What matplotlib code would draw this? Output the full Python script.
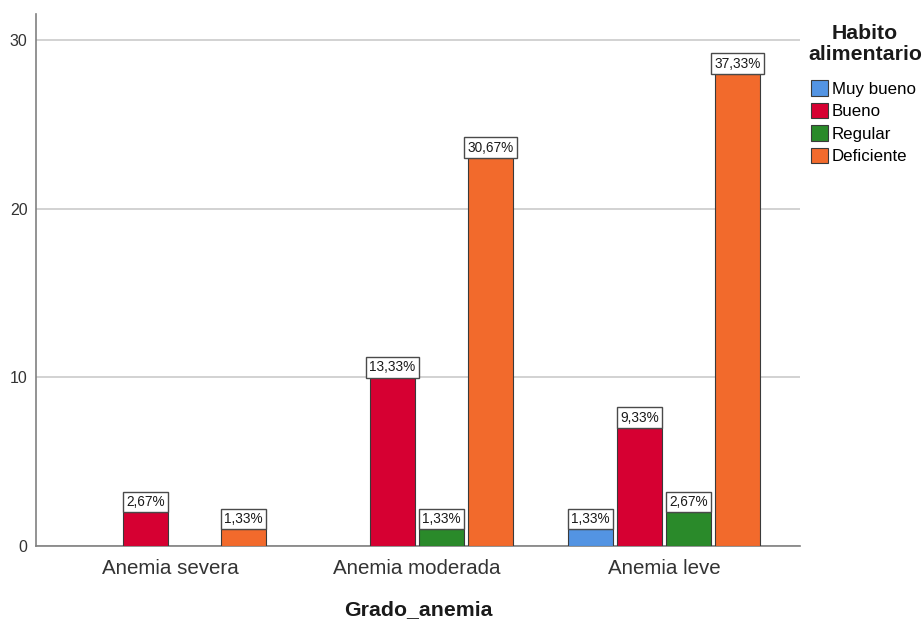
import matplotlib
matplotlib.use("Agg")
import matplotlib.pyplot as plt
import numpy as np
from matplotlib.patches import Patch

plt.rcParams['font.family'] = ['Liberation Sans', 'DejaVu Sans']

grados = ["Anemia severa", "Anemia moderada", "Anemia leve"]
habitos = ["Muy bueno", "Bueno", "Regular", "Deficiente"]
colores = ["#5394e3", "#d60032", "#2a8a2a", "#f26a2c"]

# Recuento de casos por grado de anemia (filas: hábito alimentario)
muy_bueno = [0, 0, 1]
bueno = [2, 10, 7]
regular = [0, 1, 2]
deficiente = [1, 23, 28]
total = 75

series = [muy_bueno, bueno, regular, deficiente]

fig = plt.figure(figsize=(9.24, 6.2), dpi=100)
ax = fig.add_axes([36 / 924, 74 / 620, 764 / 924, 532 / 620])

x = np.arange(len(grados))
paso = 0.1984
ancho = 0.182
offsets = (np.arange(len(habitos)) - 1.5) * paso

for serie, off, col in zip(series, offsets, colores):
    for xi, v in zip(x, serie):
        if v <= 0:
            continue
        ax.bar(xi + off, v, width=ancho, color=col, edgecolor="#3a3a3a",
               linewidth=0.8, zorder=3)
        pct = v / total * 100
        etiqueta = f"{pct:.2f}%".replace(".", ",")
        ax.annotate(etiqueta, (xi + off, v), xytext=(0, 2.3),
                    textcoords="offset points", ha="center", va="bottom",
                    fontsize=9.8, color="#1a1a1a", zorder=5,
                    bbox=dict(boxstyle="square,pad=0.25", fc="white",
                              ec="#4a4a4a", lw=1.0))

ax.set_xlim(-0.5425, 2.55)
ax.set_ylim(0, 31.54)
ax.set_yticks([0, 10, 20, 30])
ax.set_xticks(x)
ax.set_xticklabels(grados, fontsize=14.8, color="#333333")
ax.tick_params(axis="y", length=0, labelsize=11.5, colors="#333333", pad=6)
ax.tick_params(axis="x", length=0, pad=9)
ax.grid(axis="y", color="#d2d2d2", linewidth=1.4, zorder=0)
ax.set_axisbelow(True)
for s in ["top", "right"]:
    ax.spines[s].set_visible(False)
for s in ["left", "bottom"]:
    ax.spines[s].set_color("#808080")
    ax.spines[s].set_linewidth(1.2)

ax.set_xlabel("Grado_anemia", fontsize=15.3, fontweight="bold", labelpad=16,
              color="#1a1a1a")

# Título de la leyenda, centrado sobre las entradas
fig.text(865 / 924, 1 - 44 / 620, "Habito\nalimentario", ha="center",
         va="center", multialignment="center", fontsize=15.3,
         fontweight="bold", color="#1a1a1a", linespacing=1.1)

handles = [Patch(facecolor=c, edgecolor="#3a3a3a", linewidth=0.8) for c in colores]
leg = fig.legend(handles, habitos, loc="upper left",
                 bbox_to_anchor=(808 / 924, 1 - 77 / 620), frameon=False,
                 fontsize=12.2,
                 handlelength=1.0, handleheight=1.0, handletextpad=0.2,
                 labelspacing=0.36, borderaxespad=0, borderpad=0.2)

fig.savefig("out.png", dpi=100)
